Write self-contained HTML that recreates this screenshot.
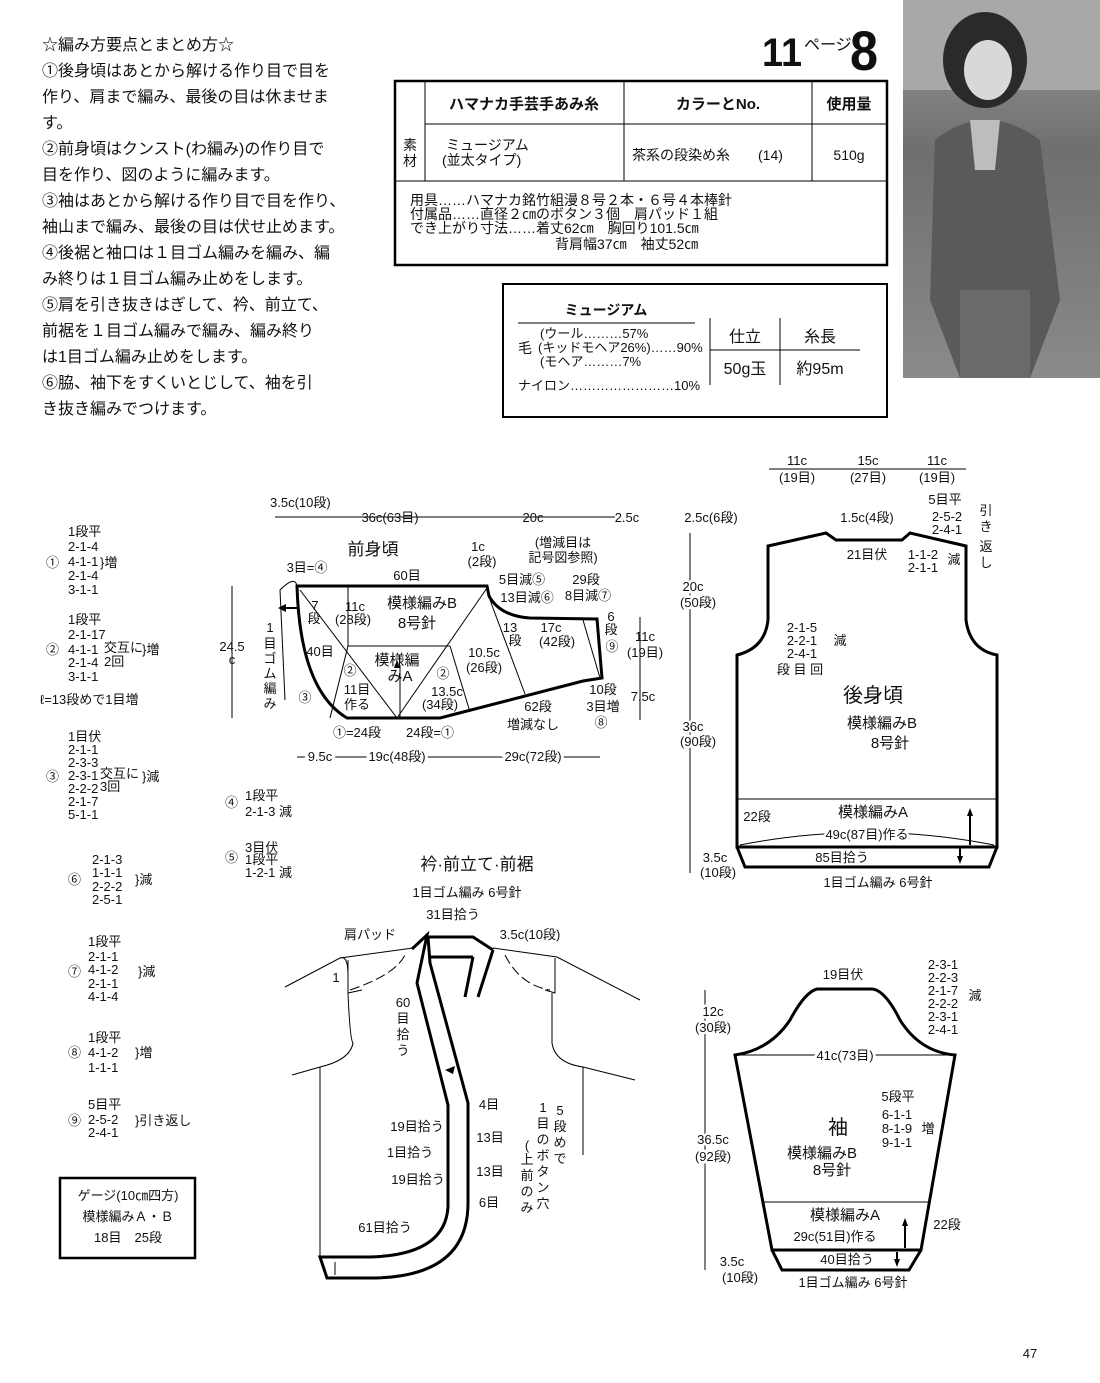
<!DOCTYPE html>
<html><head><meta charset="utf-8"><style>
html,body{margin:0;padding:0;background:#fff}
svg{display:block}
text{font-family:"Liberation Sans","Noto Sans CJK JP",sans-serif;fill:#111}
.s{font-size:13px}
.m{font-size:14px}
.c{text-anchor:middle}
.th{stroke:#000;stroke-width:3;fill:none}
.tn{stroke:#000;stroke-width:1;fill:none}
</style></head><body>
<svg width="1100" height="1383" viewBox="0 0 1100 1383" xmlns="http://www.w3.org/2000/svg">
<!-- instructions -->
<g style="font-size:16px">
<text x="42" y="50">☆編み方要点とまとめ方☆</text>
<text x="42" y="76">①後身頃はあとから解ける作り目で目を</text>
<text x="42" y="102">作り、肩まで編み、最後の目は休ませま</text>
<text x="42" y="128">す。</text>
<text x="42" y="154">②前身頃はクンスト(わ編み)の作り目で</text>
<text x="42" y="180">目を作り、図のように編みます。</text>
<text x="42" y="206">③袖はあとから解ける作り目で目を作り、</text>
<text x="42" y="232">袖山まで編み、最後の目は伏せ止めます。</text>
<text x="42" y="258">④後裾と袖口は１目ゴム編みを編み、編</text>
<text x="42" y="284">み終りは１目ゴム編み止めをします。</text>
<text x="42" y="310">⑤肩を引き抜きはぎして、衿、前立て、</text>
<text x="42" y="336">前裾を１目ゴム編みで編み、編み終り</text>
<text x="42" y="362">は1目ゴム編み止めをします。</text>
<text x="42" y="388">⑥脇、袖下をすくいとじして、袖を引</text>
<text x="42" y="414">き抜き編みでつけます。</text>
</g>
<!-- title -->
<text x="762" y="66" style="font-size:40px;font-weight:bold" textLength="40" lengthAdjust="spacingAndGlyphs">11</text>
<text x="804" y="50" style="font-size:16px">ページ</text>
<text x="850" y="70" style="font-size:56px;font-weight:bold" textLength="28" lengthAdjust="spacingAndGlyphs">8</text>
<!-- table 1 -->
<rect x="395" y="81" width="492" height="184" fill="none" stroke="#000" stroke-width="2.5"/>
<line x1="425" y1="81" x2="425" y2="181" class="tn"/>
<line x1="624" y1="81" x2="624" y2="181" class="tn"/>
<line x1="812" y1="81" x2="812" y2="181" class="tn"/>
<line x1="425" y1="124" x2="887" y2="124" class="tn"/>
<line x1="395" y1="181" x2="887" y2="181" class="tn"/>
<text x="410" y="150" class="m c">素</text><text x="410" y="166" class="m c">材</text>
<text x="524" y="109" class="c" style="font-size:15px;font-weight:bold">ハマナカ手芸手あみ糸</text>
<text x="718" y="109" class="c" style="font-size:15px;font-weight:bold">カラーとNo.</text>
<text x="849" y="109" class="c" style="font-size:15px;font-weight:bold">使用量</text>
<text x="446" y="150" class="m">ミュージアム</text>
<text x="442" y="165" class="m">(並太タイプ)</text>
<text x="632" y="160" class="m">茶系の段染め糸　　(14)</text>
<text x="849" y="160" class="m c">510g</text>
<g class="m">
<text x="410" y="205">用具……ハマナカ銘竹組漫８号２本・６号４本棒針</text>
<text x="410" y="219">付属品……直径２㎝のボタン３個　肩パッド１組</text>
<text x="410" y="233">でき上がり寸法……着丈62㎝　胸回り101.5㎝</text>
<text x="555" y="249">背肩幅37㎝　袖丈52㎝</text>
</g>
<!-- table 2 -->
<rect x="503" y="284" width="384" height="133" fill="none" stroke="#000" stroke-width="2"/>
<text x="606" y="315" class="m c" style="font-weight:bold">ミュージアム</text>
<line x1="518" y1="323" x2="695" y2="323" class="tn"/>
<text x="540" y="338" class="s">(ウール………57%</text>
<text x="538" y="352" class="s">(キッドモヘア26%)……90%</text>
<text x="540" y="366" class="s">(モヘア………7%</text>
<text x="518" y="353" class="m">毛</text>
<text x="518" y="390" class="s">ナイロン……………………10%</text>
<line x1="710" y1="318" x2="710" y2="385" class="tn"/>
<line x1="780" y1="318" x2="780" y2="385" class="tn"/>
<line x1="710" y1="350" x2="860" y2="350" class="tn"/>
<text x="745" y="342" class="c" style="font-size:16px">仕立</text>
<text x="820" y="342" class="c" style="font-size:16px">糸長</text>
<text x="745" y="374" class="c" style="font-size:16px">50g玉</text>
<text x="820" y="374" class="c" style="font-size:16px">約95m</text>
<!-- photo -->
<defs><linearGradient id="pg" x1="0" y1="0" x2="0" y2="1"><stop offset="0" stop-color="#9a9a9a"/><stop offset="0.4" stop-color="#6f6f6f"/><stop offset="1" stop-color="#8a8a8a"/></linearGradient></defs>
<rect x="903" y="0" width="197" height="378" fill="url(#pg)"/>
<rect x="903" y="0" width="197" height="90" fill="#a8a8a8"/>
<ellipse cx="985" cy="60" rx="42" ry="48" fill="#2a2a2a"/>
<ellipse cx="988" cy="70" rx="24" ry="30" fill="#d8d8d8"/>
<path d="M935 140 Q985 100 1040 140 L1060 300 L1030 378 L960 378 L930 300 Z" fill="#5a5a5a"/>
<path d="M970 120 L1000 120 L995 170 L975 170 Z" fill="#bdbdbd"/>
<rect x="960" y="290" width="70" height="88" fill="#6a6a6a"/>
<!-- front body -->
<g>
<path class="th" d="M297 586 L487 586 L489 596 Q500 616 530 618 L597 619 L602 678 L583 681 L440 718 L347 718 Q300 690 297 586 Z"/>
<g class="tn">
<line x1="300" y1="590" x2="397" y2="718"/>
<line x1="487" y1="588" x2="397" y2="718"/>
<line x1="348" y1="586" x2="348" y2="646"/>
<line x1="348" y1="646" x2="450" y2="646"/>
<line x1="348" y1="646" x2="330" y2="718"/>
<line x1="450" y1="646" x2="470" y2="712"/>
<line x1="490" y1="600" x2="525" y2="694"/>
<line x1="583" y1="620" x2="600" y2="678"/>
<line x1="275" y1="517" x2="615" y2="517"/>
<line x1="232" y1="586" x2="232" y2="718"/>
<line x1="640" y1="617" x2="640" y2="720"/>
<line x1="297" y1="757" x2="600" y2="757"/>
<path d="M297 586 Q295 575 280 590 L285 700"/>
<path d="M400 718 L400 665"/>
</g>
<path d="M397 660 l-3 8 h6 z" fill="#000"/>
<line x1="297" y1="608" x2="283" y2="608" stroke="#000" stroke-width="2"/>
<path d="M278 608 l8 -4 v8 z" fill="#000"/>
<g class="s">
<text x="270" y="507">3.5c(10段)</text>
<text x="390" y="522" class="c">36c(63目)</text>
<text x="533" y="522" class="c">20c</text>
<text x="627" y="522" class="c">2.5c</text>
<text x="373" y="555" class="c" style="font-size:17px">前身頃</text>
<text x="563" y="547" class="c">(増減目は</text>
<text x="563" y="562" class="c">記号図参照)</text>
<text x="478" y="551" class="c">1c</text>
<text x="482" y="566" class="c">(2段)</text>
<text x="307" y="572" class="c">3目=④</text>
<text x="407" y="580" class="c">60目</text>
<text x="522" y="584" class="c">5目減⑤</text>
<text x="586" y="584" class="c">29段</text>
<text x="588" y="600" class="c">8目減⑦</text>
<text x="527" y="602" class="c">13目減⑥</text>
<text x="422" y="608" class="c" style="font-size:15px">模様編みB</text>
<text x="417" y="628" class="c" style="font-size:15px">8号針</text>
<text x="355" y="611" class="c">11c</text>
<text x="353" y="624" class="c">(28段)</text>
<text x="315" y="610" class="c">7</text><text x="314" y="623" class="c">段</text>
<text x="611" y="621" class="c">6</text><text x="611" y="634" class="c">段</text><text x="612" y="651" class="c">⑨</text>
<text x="551" y="632" class="c">17c</text>
<text x="557" y="646" class="c">(42段)</text>
<text x="510" y="632" class="c">13</text><text x="515" y="645" class="c">段</text>
<text x="645" y="641" class="c">11c</text>
<text x="645" y="657" class="c">(19目)</text>
<text x="232" y="651" class="c">24.5</text><text x="232" y="664" class="c">c</text>
<text x="270" y="632" class="c">1</text><text x="270" y="648" class="c">目</text><text x="270" y="663" class="c">ゴ</text><text x="270" y="678" class="c">ム</text><text x="270" y="693" class="c">編</text><text x="270" y="708" class="c">み</text>
<text x="320" y="656" class="c">40目</text>
<text x="397" y="665" class="c" style="font-size:15px">模様編</text>
<text x="400" y="681" class="c" style="font-size:15px">みA</text>
<text x="484" y="657" class="c">10.5c</text>
<text x="484" y="672" class="c">(26段)</text>
<text x="350" y="675" class="c">②</text><text x="443" y="678" class="c">②</text>
<text x="305" y="702" class="c">③</text>
<text x="357" y="694" class="c">11目</text><text x="357" y="709" class="c">作る</text>
<text x="447" y="696" class="c">13.5c</text><text x="440" y="709" class="c">(34段)</text>
<text x="603" y="694" class="c">10段</text><text x="603" y="711" class="c">3目増</text><text x="601" y="727" class="c">⑧</text>
<text x="643" y="701" class="c">7.5c</text>
<text x="538" y="711" class="c">62段</text>
<text x="533" y="729" class="c">増減なし</text>
<text x="357" y="737" class="c">①=24段</text>
<text x="430" y="737" class="c">24段=①</text>
<text x="320" y="761" class="c" style="paint-order:stroke;stroke:#fff;stroke-width:6">9.5c</text>
<text x="397" y="761" class="c" style="paint-order:stroke;stroke:#fff;stroke-width:6">19c(48段)</text>
<text x="533" y="761" class="c" style="paint-order:stroke;stroke:#fff;stroke-width:6">29c(72段)</text>
</g>
</g>
<!-- back body -->
<g>
<path class="th" d="M737 847 L737 655 Q765 648 768 620 L768 546 L826 533 L836 540 L902 540 L910 533 L966 546 L966 620 Q970 650 997 655 L997 847 Z"/>
<path class="th" d="M737 847 L745 867 L989 867 L997 847"/>
<g class="tn">
<line x1="737" y1="799" x2="997" y2="799"/>
<line x1="769" y1="469" x2="966" y2="469"/>
<line x1="690" y1="533" x2="690" y2="873"/>
<path d="M740 845 Q867 820 994 845"/>
</g>
<line x1="970" y1="845" x2="970" y2="812" stroke="#000" stroke-width="2"/><path d="M970 808 l-3 8 h6z" fill="#000"/>
<line x1="960" y1="848" x2="960" y2="860" stroke="#000" stroke-width="2"/><path d="M960 864 l-3 -8 h6z" fill="#000"/>
<g class="s">
<text x="797" y="465" class="c" style="paint-order:stroke;stroke:#fff;stroke-width:5">11c</text>
<text x="797" y="482" class="c">(19目)</text>
<text x="868" y="465" class="c" style="paint-order:stroke;stroke:#fff;stroke-width:5">15c</text>
<text x="868" y="482" class="c">(27目)</text>
<text x="937" y="465" class="c" style="paint-order:stroke;stroke:#fff;stroke-width:5">11c</text>
<text x="937" y="482" class="c">(19目)</text>
<text x="711" y="522" class="c">2.5c(6段)</text>
<text x="693" y="591" class="c" style="paint-order:stroke;stroke:#fff;stroke-width:5">20c</text>
<text x="698" y="607" class="c" style="paint-order:stroke;stroke:#fff;stroke-width:5">(50段)</text>
<text x="693" y="731" class="c" style="paint-order:stroke;stroke:#fff;stroke-width:5">36c</text>
<text x="698" y="746" class="c" style="paint-order:stroke;stroke:#fff;stroke-width:5">(90段)</text>
<text x="715" y="862" class="c">3.5c</text><text x="718" y="877" class="c">(10段)</text>
<text x="867" y="522" class="c">1.5c(4段)</text>
<text x="945" y="504" class="c">5目平</text><text x="947" y="521" class="c">2-5-2</text><text x="947" y="534" class="c">2-4-1</text>
<text x="986" y="515" class="c">引</text><text x="986" y="531" class="c">き</text><text x="986" y="551" class="c">返</text><text x="986" y="567" class="c">し</text>
<text x="867" y="559" class="c">21目伏</text>
<text x="923" y="559" class="c">1-1-2</text><text x="923" y="572" class="c">2-1-1</text><text x="954" y="564" class="c">減</text>
<text x="802" y="632" class="c">2-1-5</text><text x="802" y="645" class="c">2-2-1</text><text x="802" y="658" class="c">2-4-1</text><text x="840" y="645" class="c">減</text>
<text x="800" y="674" class="c">段 目 回</text>
<text x="873" y="702" class="c" style="font-size:20px">後身頃</text>
<text x="882" y="728" class="c" style="font-size:15px">模様編みB</text>
<text x="890" y="748" class="c" style="font-size:15px">8号針</text>
<text x="873" y="817" class="c" style="font-size:15px">模様編みA</text>
<text x="757" y="821" class="c">22段</text>
<text x="867" y="839" class="c" style="paint-order:stroke;stroke:#fff;stroke-width:5">49c(87目)作る</text>
<text x="842" y="862" class="c">85目拾う</text>
<text x="878" y="887" class="c">1目ゴム編み 6号針</text>
</g>
</g>
<!-- collar diagram -->
<g>
<g class="tn">
<path d="M285 987 L340 958 L413 948"/>
<path d="M340 958 Q348 955 348 975 L348 993 Q350 1040 353 1043 Q350 1060 320 1067 L292 1075"/>
<line x1="320" y1="1067" x2="320" y2="1257"/>
<path d="M493 948 L557 957 L640 1000"/>
<path d="M552 993 L552 1043 Q555 1063 583 1067 L635 1080"/>
<line x1="583" y1="1067" x2="583" y2="1155"/>
<path d="M348 960 L348 993 L362 990" />
<path d="M350 990 Q395 975 405 955" stroke-dasharray="10 4"/>
<path d="M555 958 L555 993 L545 990"/>
<path d="M505 955 Q520 985 550 990" stroke-dasharray="10 4"/>
</g>
<g class="th">
<path d="M412 949 L427 935 L417 983 L448 1105 L448 1207 Q445 1255 370 1257 L320 1257 L327 1278 L370 1278 Q468 1278 468 1203 L468 1103 L430 963 L428 937"/>
<path d="M428 937 L473 937 L493 950"/>
<path d="M430 957 L473 957"/>
<path d="M473 957 L465 997"/>
<path d="M493 950 L478 997"/>
</g>
<path d="M445 1070 l10 -4 -2 8z" fill="#000"/>
<line x1="335" y1="1262" x2="335" y2="1275" class="tn"/>
<g class="s">
<text x="477" y="870" class="c" style="font-size:17px">衿·前立て·前裾</text>
<text x="467" y="897" class="c">1目ゴム編み 6号針</text>
<text x="453" y="919" class="c">31目拾う</text>
<text x="370" y="939" class="c">肩パッド</text>
<text x="530" y="939" class="c">3.5c(10段)</text>
<text x="336" y="982" class="c">1</text>
<text x="403" y="1007" class="c">60</text><text x="403" y="1023" class="c">目</text><text x="403" y="1039" class="c">拾</text><text x="403" y="1055" class="c">う</text>
<text x="489" y="1109" class="c">4目</text>
<text x="417" y="1131" class="c">19目拾う</text>
<text x="410" y="1157" class="c">1目拾う</text>
<text x="418" y="1184" class="c">19目拾う</text>
<text x="490" y="1142" class="c">13目</text>
<text x="490" y="1176" class="c">13目</text>
<text x="489" y="1207" class="c">6目</text>
<text x="385" y="1232" class="c">61目拾う</text>
<text x="560" y="1115" class="c">5</text><text x="560" y="1131" class="c">段</text><text x="560" y="1147" class="c">め</text><text x="560" y="1163" class="c">で</text>
<text x="543" y="1112" class="c">1</text><text x="543" y="1128" class="c">目</text><text x="543" y="1144" class="c">の</text><text x="543" y="1160" class="c">ボ</text><text x="543" y="1176" class="c">タ</text><text x="543" y="1192" class="c">ン</text><text x="543" y="1208" class="c">穴</text>
<text x="527" y="1150" class="c">(</text><text x="527" y="1164" class="c">上</text><text x="527" y="1180" class="c">前</text><text x="527" y="1196" class="c">の</text><text x="527" y="1212" class="c">み</text>
</g>
</g>
<!-- sleeve -->
<g>
<path class="th" d="M735 1055 Q770 1050 790 1020 Q805 992 817 989 L872 989 Q885 990 900 1020 Q920 1052 955 1055 L921 1250 L772 1250 Z"/>
<path class="th" d="M772 1250 L782 1270 L909 1270 L921 1250"/>
<g class="tn">
<line x1="762" y1="1202" x2="930" y2="1202"/>
<line x1="735" y1="1055" x2="955" y2="1055"/>
<line x1="705" y1="990" x2="705" y2="1270"/>
</g>
<line x1="905" y1="1248" x2="905" y2="1222" stroke="#000" stroke-width="2"/><path d="M905 1218 l-3 8 h6z" fill="#000"/>
<line x1="897" y1="1252" x2="897" y2="1263" stroke="#000" stroke-width="2"/><path d="M897 1267 l-3 -8 h6z" fill="#000"/>
<g class="s">
<text x="843" y="979" class="c">19目伏</text>
<text x="943" y="969" class="c">2-3-1</text><text x="943" y="982" class="c">2-2-3</text><text x="943" y="995" class="c">2-1-7</text><text x="943" y="1008" class="c">2-2-2</text><text x="943" y="1021" class="c">2-3-1</text><text x="943" y="1034" class="c">2-4-1</text>
<text x="975" y="1000" class="c">減</text>
<text x="713" y="1016" class="c" style="paint-order:stroke;stroke:#fff;stroke-width:5">12c</text>
<text x="713" y="1032" class="c" style="paint-order:stroke;stroke:#fff;stroke-width:5">(30段)</text>
<text x="845" y="1060" class="c" style="paint-order:stroke;stroke:#fff;stroke-width:6">41c(73目)</text>
<text x="898" y="1101" class="c">5段平</text>
<text x="897" y="1119" class="c">6-1-1</text><text x="897" y="1133" class="c">8-1-9</text><text x="897" y="1147" class="c">9-1-1</text>
<text x="928" y="1133" class="c">増</text>
<text x="838" y="1134" class="c" style="font-size:20px">袖</text>
<text x="822" y="1158" class="c" style="font-size:15px">模様編みB</text>
<text x="832" y="1175" class="c" style="font-size:15px">8号針</text>
<text x="713" y="1144" class="c" style="paint-order:stroke;stroke:#fff;stroke-width:5">36.5c</text>
<text x="713" y="1161" class="c" style="paint-order:stroke;stroke:#fff;stroke-width:5">(92段)</text>
<text x="845" y="1220" class="c" style="font-size:15px">模様編みA</text>
<text x="947" y="1229" class="c">22段</text>
<text x="835" y="1241" class="c">29c(51目)作る</text>
<text x="847" y="1264" class="c">40目拾う</text>
<text x="732" y="1266" class="c">3.5c</text><text x="740" y="1282" class="c">(10段)</text>
<text x="853" y="1287" class="c">1目ゴム編み 6号針</text>
</g>
</g>
<!-- left symbol groups -->
<g class="s">
<text x="46" y="567">①</text>
<text x="68" y="536">1段平</text><text x="68" y="551">2-1-4</text><text x="68" y="566">4-1-1</text><text x="68" y="580">2-1-4</text><text x="68" y="594">3-1-1</text>
<text x="100" y="567">}増</text>
<text x="46" y="654">②</text>
<text x="68" y="624">1段平</text><text x="68" y="639">2-1-17</text><text x="68" y="654">4-1-1</text><text x="68" y="667">2-1-4</text><text x="68" y="681">3-1-1</text>
<text x="104" y="652">交互に</text><text x="104" y="666">2回</text><text x="142" y="654">}増</text>
<text x="40" y="704">ℓ=13段めで1目増</text>
<text x="46" y="781">③</text>
<text x="68" y="741">1目伏</text><text x="68" y="754">2-1-1</text><text x="68" y="767">2-3-3</text><text x="68" y="780">2-3-1</text><text x="68" y="793">2-2-2</text><text x="68" y="806">2-1-7</text><text x="68" y="819">5-1-1</text>
<text x="100" y="778">交互に</text><text x="100" y="791">3回</text><text x="142" y="781">}減</text>
<text x="225" y="807">④</text><text x="245" y="800">1段平</text><text x="245" y="816">2-1-3 減</text>
<text x="225" y="862">⑤</text><text x="245" y="852">3目伏</text><text x="245" y="864">1段平</text><text x="245" y="877">1-2-1 減</text>
<text x="68" y="884">⑥</text>
<text x="92" y="864">2-1-3</text><text x="92" y="877">1-1-1</text><text x="92" y="891">2-2-2</text><text x="92" y="904">2-5-1</text>
<text x="135" y="884">}減</text>
<text x="68" y="976">⑦</text>
<text x="88" y="946">1段平</text><text x="88" y="961">2-1-1</text><text x="88" y="974">4-1-2</text><text x="88" y="988">2-1-1</text><text x="88" y="1001">4-1-4</text>
<text x="138" y="976">}減</text>
<text x="68" y="1057">⑧</text>
<text x="88" y="1042">1段平</text><text x="88" y="1057">4-1-2</text><text x="88" y="1072">1-1-1</text>
<text x="135" y="1057">}増</text>
<text x="68" y="1125">⑨</text>
<text x="88" y="1109">5目平</text><text x="88" y="1124">2-5-2</text><text x="88" y="1137">2-4-1</text>
<text x="135" y="1125">}引き返し</text>
</g>
<rect x="60" y="1178" width="135" height="80" fill="none" stroke="#000" stroke-width="2.5"/>
<text x="128" y="1200" class="s c">ゲージ(10㎝四方)</text>
<text x="128" y="1221" class="s c">模様編みＡ・Ｂ</text>
<text x="128" y="1242" class="s c">18目　25段</text>
<text x="1030" y="1358" class="s c">47</text>
</svg>
</body></html>
